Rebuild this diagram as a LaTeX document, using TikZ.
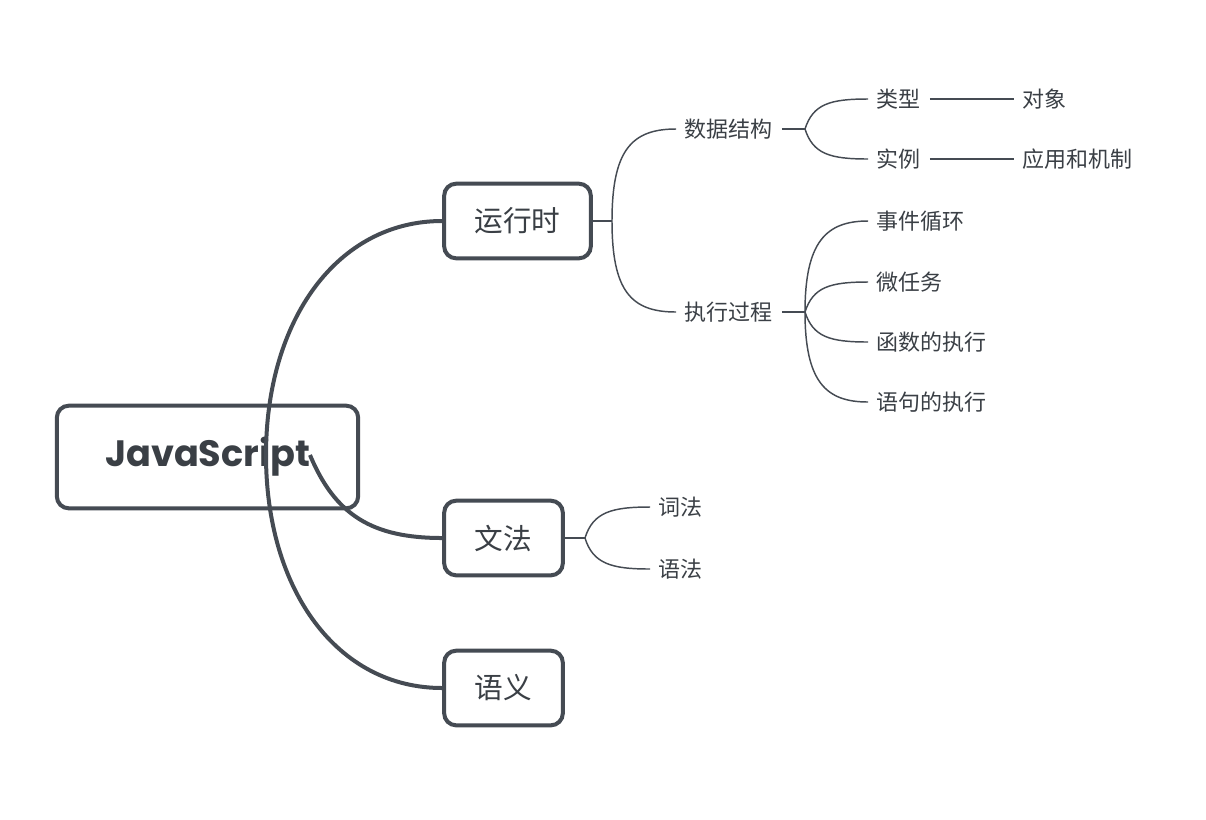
\documentclass[tikz,border=0pt]{standalone}
\usepackage{fontspec}
\setmainfont{Noto Sans CJK SC}
\newfontfamily\jsfont{Poppins}[UprightFont=* Bold]
\definecolor{edge}{HTML}{454B53}
\definecolor{txt}{HTML}{3A3F45}
\begin{document}
\begin{tikzpicture}[x=0.75pt,y=-0.75pt,
  mainbox/.style={draw=edge, line width=3pt, rounded corners=9pt, fill=white, text=txt, inner sep=0pt},
  lbl/.style={text=txt, font=\fontsize{16.5pt}{18pt}\selectfont, inner xsep=6.5pt, inner ysep=2pt},
  thick link/.style={draw=edge, line width=3pt},
  thin link/.style={draw=edge, line width=1.1pt}]
\useasboundingbox (0,0) rectangle (1206,819);
\coordinate (o1) at (266,455);
\coordinate (o2) at (310,455);
\node[mainbox, minimum width=110pt, minimum height=56pt, font=\fontsize{21.5pt}{24pt}\selectfont] (rt) at (517.5,221) {运行时};
\node[mainbox, minimum width=89pt, minimum height=56pt, font=\fontsize{21.5pt}{24pt}\selectfont] (wf) at (503.5,538) {文法};
\node[mainbox, minimum width=89pt, minimum height=56pt, font=\fontsize{21.5pt}{24pt}\selectfont] (yy) at (503.5,688) {语义};
\node[mainbox, fill=none, minimum width=226pt, minimum height=77pt, font=\jsfont\fontsize{27.5pt}{30pt}\selectfont] (js) at (207.5,457) {JavaScript};
\draw[thick link] (o1) .. controls +(0,-135) and +(-105,0) .. (rt.west);
\draw[thick link] (o1) .. controls +(0,135) and +(-105,0) .. (yy.west);
\draw[thick link] (o2) .. controls +(25,60) and +(-70,0) .. (wf.west);
% level 2
\coordinate (j1) at (612,221);
\node[lbl, anchor=west] (ds) at (676,129) {数据结构};
\node[lbl, anchor=west] (zx) at (676,312) {执行过程};
\draw[thin link] (rt.east) -- (j1);
\draw[thin link] (j1) .. controls +(0,-70) and +(-45,0) .. (ds.west);
\draw[thin link] (j1) .. controls +(0,70) and +(-45,0) .. (zx.west);
% data structure branch
\coordinate (j2) at (805,129);
\node[lbl, anchor=west] (lx) at (868,99) {类型};
\node[lbl, anchor=west] (sl) at (868,159) {实例};
\node[lbl, anchor=west] (dx) at (1014,99) {对象};
\node[lbl, anchor=west] (yyjz) at (1014,159) {应用和机制};
\draw[thin link] (ds.east) -- (j2);
\draw[thin link] (j2) .. controls +(8,-25) and +(-38,0) .. (lx.west);
\draw[thin link] (j2) .. controls +(8,25) and +(-38,0) .. (sl.west);
\draw[thin link] (lx.east) -- (dx.west);
\draw[thin link] (sl.east) -- (yyjz.west);
% execution branch
\coordinate (j3) at (805,312);
\node[lbl, anchor=west] (sj) at (868,221) {事件循环};
\node[lbl, anchor=west] (wr) at (868,282) {微任务};
\node[lbl, anchor=west] (hs) at (868,342) {函数的执行};
\node[lbl, anchor=west] (yj) at (868,402) {语句的执行};
\draw[thin link] (zx.east) -- (j3);
\draw[thin link] (j3) .. controls +(0,-70) and +(-42,0) .. (sj.west);
\draw[thin link] (j3) .. controls +(8,-25) and +(-38,0) .. (wr.west);
\draw[thin link] (j3) .. controls +(8,25) and +(-38,0) .. (hs.west);
\draw[thin link] (j3) .. controls +(0,70) and +(-42,0) .. (yj.west);
% grammar branch
\coordinate (j4) at (585,538);
\node[lbl, anchor=west] (cf) at (650,507) {词法};
\node[lbl, anchor=west] (yf) at (650,569) {语法};
\draw[thin link] (wf.east) -- (j4);
\draw[thin link] (j4) .. controls +(8,-26) and +(-38,0) .. (cf.west);
\draw[thin link] (j4) .. controls +(8,26) and +(-38,0) .. (yf.west);
\end{tikzpicture}
\end{document}
